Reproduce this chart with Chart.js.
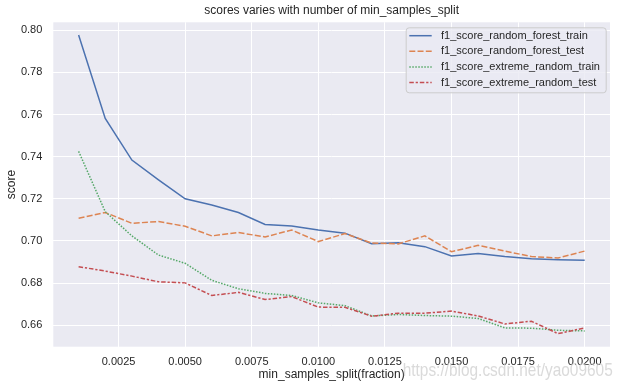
<!DOCTYPE html>
<html>
<head>
<meta charset="utf-8">
<script src="https://cdn.jsdelivr.net/npm/chart.js@4.4.0/dist/chart.umd.min.js"></script>
<style>
  html, body { margin: 0; padding: 0; background: #ffffff; }
  #wrap { width: 623px; height: 388px; position: relative; }
</style>
</head>
<body>
<div id="wrap"><canvas id="c" width="623" height="388"></canvas></div>
<script>
// ---- data ----
const xValues = [0.001, 0.002, 0.003, 0.004, 0.005, 0.006, 0.007, 0.008, 0.009, 0.010,
                 0.011, 0.012, 0.013, 0.014, 0.015, 0.016, 0.017, 0.018, 0.019, 0.020];
const rfTrain = [0.7978, 0.7582, 0.7384, 0.729, 0.720, 0.7171, 0.7135, 0.7078, 0.7071, 0.7052,
                 0.7037, 0.6987, 0.6992, 0.6973, 0.6929, 0.6941, 0.6926, 0.6916, 0.6911, 0.6908];
const rfTest  = [0.7108, 0.7135, 0.7084, 0.7092, 0.7070, 0.7024, 0.7040, 0.7019, 0.7052, 0.6997,
                 0.7035, 0.6990, 0.6986, 0.7024, 0.6949, 0.6979, 0.6952, 0.6926, 0.6919, 0.6952];
const etTrain = [0.7425, 0.7139, 0.7024, 0.6933, 0.6894, 0.6813, 0.6773, 0.6751, 0.6741, 0.6706,
                 0.6693, 0.6644, 0.6651, 0.6646, 0.6643, 0.6632, 0.6587, 0.6586, 0.6576, 0.6573];
const etTest  = [0.6878, 0.6857, 0.6833, 0.6806, 0.6801, 0.6741, 0.6756, 0.6722, 0.6736, 0.6686,
                 0.6685, 0.6643, 0.6657, 0.6657, 0.6667, 0.6644, 0.6606, 0.6619, 0.6560, 0.6587];
const seriesLabels = ['f1_score_random_forest_train', 'f1_score_random_forest_test',
                      'f1_score_extreme_random_train', 'f1_score_extreme_random_test'];
const xTicks = [0.0025, 0.0050, 0.0075, 0.0100, 0.0125, 0.0150, 0.0175, 0.0200];
const yTicks = [0.66, 0.68, 0.70, 0.72, 0.74, 0.76, 0.78, 0.80];
const titleText = 'scores varies with number of min_samples_split';
const xLabel = 'min_samples_split(fraction)';
const yLabel = 'score';
const watermark = 'https://blog.csdn.net/yao09605';

// ---- styling ----
const FONT = "'Liberation Sans', Arial, sans-serif";
const TXT = '#262626';
const colors = ['#4C72B0', '#DD8452', '#55A868', '#C44E52'];
const dashes = [[], [6, 2.25], [1.5, 1.5], [4.5, 1.875, 2.25, 1.875]];
const seriesValues = [rfTrain, rfTest, etTrain, etTest];

const datasets = seriesValues.map((vals, i) => ({
  label: seriesLabels[i],
  data: vals.map((v, j) => ({ x: xValues[j], y: v })),
  borderColor: colors[i],
  backgroundColor: colors[i],
  borderDash: dashes[i],
  borderWidth: 1.5,
  pointRadius: 0,
  tension: 0,
  fill: false,
  order: 4 - i
}));

const bgPlugin = {
  id: 'plotBg',
  beforeDraw(chart) {
    const { ctx, chartArea: a } = chart;
    ctx.save();
    ctx.fillStyle = '#EAEAF2';
    ctx.fillRect(a.left, a.top, a.right - a.left, a.bottom - a.top);
    ctx.restore();
  }
};

const legendPlugin = {
  id: 'innerLegend',
  afterDatasetsDraw(chart) {
    const { ctx, chartArea: a } = chart;
    const w = 200, h = 65;
    const x0 = a.right - 4.3 - w, y0 = a.top + 5;
    ctx.save();
    ctx.beginPath();
    if (ctx.roundRect) ctx.roundRect(x0 + 0.5, y0 + 0.5, w, h, 3); else ctx.rect(x0 + 0.5, y0 + 0.5, w, h);
    ctx.fillStyle = 'rgba(234,234,242,0.8)';
    ctx.fill();
    ctx.strokeStyle = '#CCCCCC';
    ctx.lineWidth = 1;
    ctx.stroke();
    ctx.font = '11px ' + FONT;
    ctx.textBaseline = 'middle';
    ctx.textAlign = 'left';
    chart.data.datasets.forEach((ds, i) => {
      const cy = y0 + 8.4 + i * 15.6;
      ctx.beginPath();
      ctx.setLineDash(ds.borderDash);
      ctx.strokeStyle = ds.borderColor;
      ctx.lineWidth = ds.borderWidth;
      ctx.moveTo(x0 + 3.6, cy);
      ctx.lineTo(x0 + 26, cy);
      ctx.stroke();
      ctx.setLineDash([]);
      ctx.fillStyle = TXT;
      ctx.fillText(ds.label, x0 + 35.3, cy);
    });
    ctx.restore();
  }
};

const watermarkPlugin = {
  id: 'watermark',
  afterDraw(chart) {
    const { ctx } = chart;
    ctx.save();
    ctx.font = '19px ' + FONT;
    ctx.fillStyle = 'rgba(205,205,205,0.75)';
    ctx.textBaseline = 'alphabetic';
    ctx.textAlign = 'left';
    const wdt = ctx.measureText(watermark).width;
    const sx = 210 / wdt;
    ctx.translate(402.7, 376);
    ctx.scale(sx, 1);
    ctx.fillText(watermark, 0, 0);
    ctx.restore();
  }
};

new Chart(document.getElementById('c'), {
  type: 'line',
  data: { datasets },
  plugins: [bgPlugin, legendPlugin, watermarkPlugin],
  options: {
    responsive: false,
    animation: false,
    devicePixelRatio: 1,
    layout: { padding: { left: 0, right: 13, top: 0, bottom: 0 } },
    plugins: {
      legend: { display: false },
      tooltip: { enabled: false },
      title: {
        display: true,
        text: titleText,
        fullSize: false,
        color: TXT,
        font: { family: FONT, size: 12, weight: 'normal', lineHeight: 1.2 },
        padding: { top: 3.7, bottom: 4.2 }
      }
    },
    scales: {
      x: {
        type: 'linear',
        min: 0.00005,
        max: 0.02095,
        afterBuildTicks(scale) { scale.ticks = xTicks.map(v => ({ value: v })); },
        afterFit(scale) { scale.height = 41.3; },
        grid: { color: '#ffffff', lineWidth: 1, drawTicks: false },
        border: { display: false },
        ticks: {
          color: TXT,
          padding: 8.4,
          maxRotation: 0,
          autoSkip: false,
          font: { family: FONT, size: 11 },
          callback: v => Number(v).toFixed(4)
        },
        title: {
          display: true,
          text: xLabel,
          color: TXT,
          font: { family: FONT, size: 12, lineHeight: 1.2 },
          padding: { top: 0, bottom: 6.5 }
        }
      },
      y: {
        type: 'linear',
        min: 0.6498,
        max: 0.8038,
        afterBuildTicks(scale) { scale.ticks = yTicks.map(v => ({ value: v })); },
        afterFit(scale) { scale.width = 53.3; },
        grid: { color: '#ffffff', lineWidth: 1, drawTicks: false },
        border: { display: false },
        ticks: {
          color: TXT,
          padding: 11,
          autoSkip: false,
          font: { family: FONT, size: 11 },
          callback: v => Number(v).toFixed(2)
        },
        title: {
          display: true,
          text: yLabel,
          color: TXT,
          font: { family: FONT, size: 12, lineHeight: 1.2 },
          padding: { top: 4.5, bottom: 0 }
        }
      }
    }
  }
});
</script>
</body>
</html>
